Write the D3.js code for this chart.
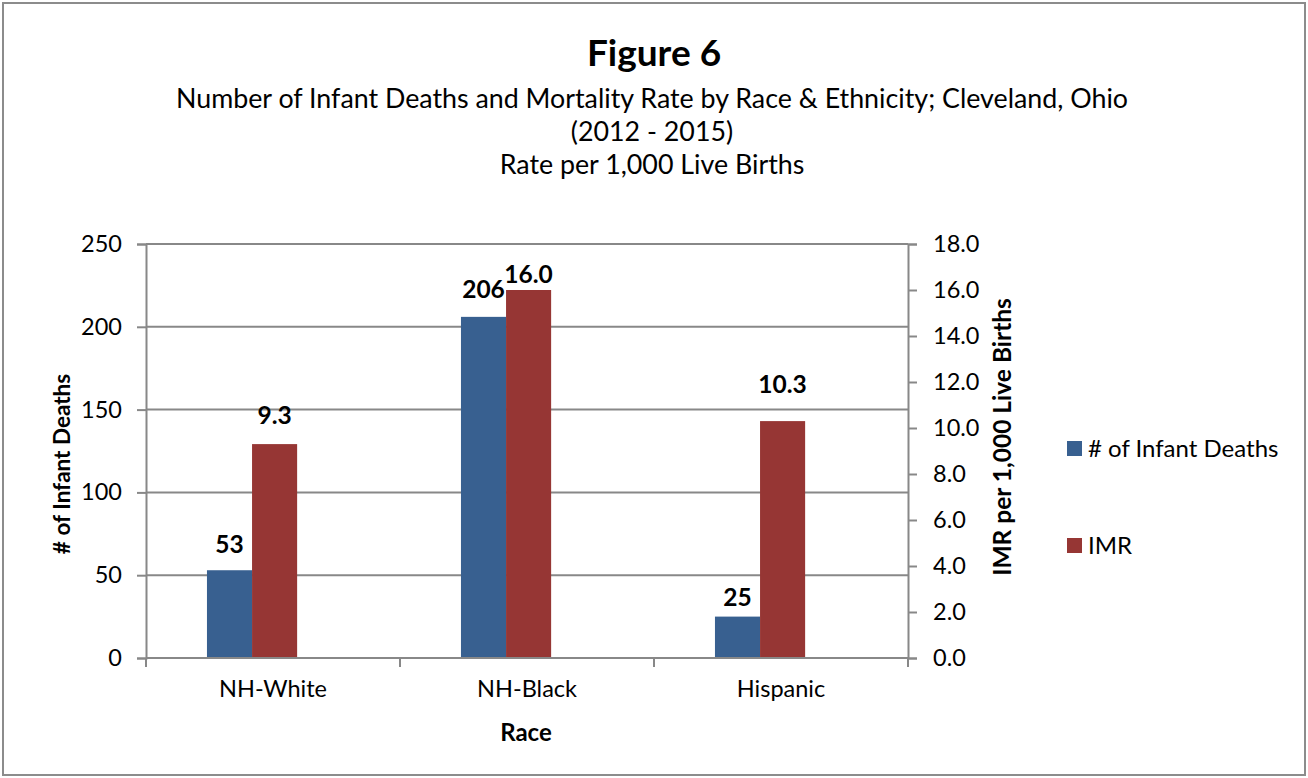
<!DOCTYPE html>
<html>
<head>
<meta charset="utf-8">
<script src="https://cdn.jsdelivr.net/npm/d3@7"></script>
<style>
  body { margin: 0; background: #fff; }
  svg text { font-family: Lato, "Open Sans", sans-serif; fill: #000; }
</style>
</head>
<body>
<div id="vis"></div>
<script>
// chart data
var races = ["NH-White", "NH-Black", "Hispanic"];
var infantDeaths = [53, 206, 25];
var imr = [9.3, 16.0, 10.3];
var seriesNames = ["# of Infant Deaths", "IMR"];
var deathTicks = [0, 50, 100, 150, 200, 250];
var imrTicks = [0, 2, 4, 6, 8, 10, 12, 14, 16, 18];

// label nudges (px above bar top), labels were hand placed in original
var deathLabelRaise = [17, 19, 11];
var imrLabelRaise = [20, 7, 28];

var w = 1308, h = 778;
var colors = ["#386090", "#963634"];
var plotLeft = 146, plotRight = 908, plotTop = 244, plotBottom = 658;

var svg = d3.select("#vis").append("svg")
    .attr("width", w)
    .attr("height", h);

// outer frame
svg.append("rect")
    .attr("x", 3).attr("y", 3)
    .attr("width", w - 6).attr("height", h - 6)
    .attr("fill", "none")
    .attr("stroke", "#8c8c8c")
    .attr("stroke-width", 2);

// titles
svg.append("text")
    .attr("x", 654).attr("y", 66)
    .attr("text-anchor", "middle")
    .style("font-size", "37px")
    .style("font-weight", "bold")
    .text("Figure 6");

var subLines = [
    "Number of Infant Deaths and Mortality Rate by Race & Ethnicity; Cleveland, Ohio",
    "(2012 - 2015)",
    "Rate per 1,000 Live Births"
];
svg.selectAll(".sub")
    .data(subLines)
    .enter()
    .append("text")
    .attr("class", "sub")
    .attr("x", 652)
    .attr("y", function(d, i) { return 108 + i * 33; })
    .attr("text-anchor", "middle")
    .style("font-size", "26.8px")
    .text(function(d) { return d; });

var x = d3.scaleBand()
    .domain(races)
    .range([plotLeft, plotRight])
    .padding(0);

var bw = x.bandwidth();
var xSub = d3.scaleBand()
    .domain(seriesNames)
    .range([bw * 0.24, bw * 0.595]);

var yLeft = d3.scaleLinear().domain([0, 250]).range([plotBottom, plotTop]);
var yRight = d3.scaleLinear().domain([0, 18]).range([plotBottom, plotTop]);

// gridlines
svg.append("g")
    .selectAll("line")
    .data(deathTicks.slice(1))
    .enter()
    .append("line")
    .attr("x1", plotLeft).attr("x2", plotRight)
    .attr("y1", function(d) { return yLeft(d); })
    .attr("y2", function(d) { return yLeft(d); })
    .attr("stroke", "#888")
    .attr("stroke-width", 2);

// bars
var barData = races.map(function(r, i) {
    return [
        { race: r, s: seriesNames[0], v: infantDeaths[i], y: yLeft(infantDeaths[i]), label: String(infantDeaths[i]), raise: deathLabelRaise[i] },
        { race: r, s: seriesNames[1], v: imr[i], y: yRight(imr[i]), label: imr[i].toFixed(1), raise: imrLabelRaise[i] }
    ];
});
var flat = [].concat.apply([], barData);

svg.selectAll("rect.bar")
    .data(flat)
    .enter()
    .append("rect")
    .attr("class", "bar")
    .attr("x", function(d) { return x(d.race) + xSub(d.s); })
    .attr("y", function(d) { return d.y; })
    .attr("width", xSub.bandwidth())
    .attr("height", function(d) { return plotBottom - d.y; })
    .attr("fill", function(d, i) { return colors[i % 2]; });

svg.selectAll("text.lbl")
    .data(flat)
    .enter()
    .append("text")
    .attr("class", "lbl")
    .attr("x", function(d) { return x(d.race) + xSub(d.s) + xSub.bandwidth() / 2; })
    .attr("y", function(d) { return d.y - d.raise; })
    .attr("text-anchor", "middle")
    .style("font-size", "24.5px")
    .style("font-weight", "bold")
    .text(function(d) { return d.label; });

// axes
var axisColor = "#888";

var gl = svg.append("g")
    .attr("transform", "translate(" + plotLeft + ",0)")
    .call(d3.axisLeft(yLeft).tickValues(deathTicks).tickSize(9).tickPadding(15));
var gr = svg.append("g")
    .attr("transform", "translate(" + plotRight + ",0)")
    .call(d3.axisRight(yRight).tickValues(imrTicks).tickSize(9).tickPadding(16)
        .tickFormat(function(d) { return d.toFixed(1); }));
var gb = svg.append("g")
    .attr("transform", "translate(0," + plotBottom + ")")
    .call(d3.axisBottom(x).tickSize(0).tickPadding(22));

// category separators below axis
svg.append("g")
    .selectAll("line")
    .data(races.concat(["end"]))
    .enter()
    .append("line")
    .attr("x1", function(d, i) { return plotLeft + i * bw; })
    .attr("x2", function(d, i) { return plotLeft + i * bw; })
    .attr("y1", plotBottom).attr("y2", plotBottom + 9)
    .attr("stroke", axisColor)
    .attr("stroke-width", 2);

[gl, gr, gb].forEach(function(g) {
    g.select(".domain").attr("stroke", axisColor).attr("stroke-width", 2);
    g.selectAll(".tick line").attr("stroke", axisColor).attr("stroke-width", 2);
    g.selectAll(".tick text")
        .attr("fill", "#000")
        .style("font-size", "23.5px")
        .style("font-family", "Lato, 'Open Sans', sans-serif");
});
gb.select(".domain").attr("d", "M" + plotLeft + ",0H" + plotRight);

// axis titles
svg.append("text")
    .attr("x", 526).attr("y", 741)
    .attr("text-anchor", "middle")
    .style("font-size", "24px")
    .style("font-weight", "bold")
    .text("Race");

svg.append("text")
    .attr("transform", "translate(70,464) rotate(-90)")
    .attr("text-anchor", "middle")
    .style("font-size", "22.5px")
    .style("font-weight", "bold")
    .text("# of Infant Deaths");

svg.append("text")
    .attr("transform", "translate(1011,437) rotate(-90)")
    .attr("text-anchor", "middle")
    .style("font-size", "24.5px")
    .style("font-weight", "bold")
    .text("IMR per 1,000 Live Births");

// legend
var legend = svg.selectAll(".leg")
    .data(seriesNames)
    .enter()
    .append("g")
    .attr("class", "leg")
    .attr("transform", function(d, i) { return "translate(1067," + (441 + i * 97) + ")"; });

legend.append("rect")
    .attr("width", 15).attr("height", 15)
    .attr("fill", function(d, i) { return colors[i]; });

legend.append("text")
    .attr("x", 21).attr("y", 16)
    .style("font-size", "24px")
    .text(function(d) { return d; });
</script>
</body>
</html>
